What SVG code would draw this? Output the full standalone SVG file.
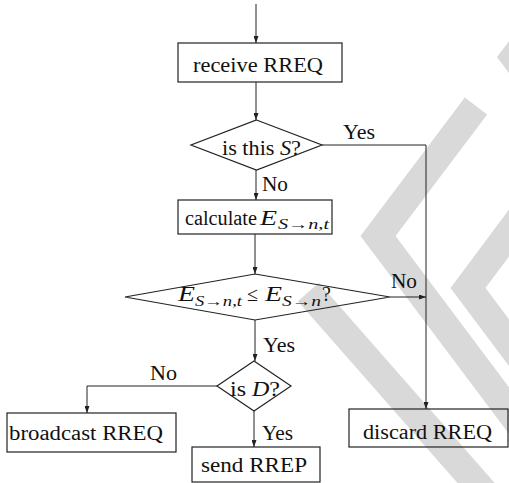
<svg xmlns="http://www.w3.org/2000/svg" width="509" height="483" viewBox="0 0 509 483">
  <defs>
    <style>
      .wm { fill: none; stroke: #d9d9d9; stroke-width: 28; stroke-linejoin: miter; stroke-miterlimit: 10; stroke-linecap: butt; }
      .shape { fill: none; stroke: #222; stroke-width: 1.2; }
      .edge { fill: none; stroke: #222; stroke-width: 1; marker-end: url(#ah); }
      text { font-family: "Liberation Serif", "Times New Roman", serif; font-size: 20px; fill: #111; }
      .it { font-style: italic; }
      .sub { font-size: 14px; }
    </style>
    <marker id="ah" markerWidth="7" markerHeight="5" refX="7" refY="2.5" orient="auto" markerUnits="userSpaceOnUse">
      <path d="M0,0 L7,2.5 L0,5 z" fill="#222"/>
    </marker>
  </defs>

  <!-- background watermark bands -->
  <g id="watermark">
    <path class="wm" d="M476,106 L378,236 L558,476"/>
    <path class="wm" d="M588,127 L468,288 L588,448"/>
    <path class="wm" d="M574,-20 L514.5,57 L574,136"/>
    <path class="wm" d="M308.4,292 L520,533"/>
  </g>

  <!-- connectors -->
  <g id="connectors">
    <path class="edge" d="M256,4 V43"/>
    <path class="edge" d="M256,82 V120"/>
    <path class="edge" d="M322,145 H426 V409"/>
    <path class="edge" d="M256,170 V200"/>
    <path class="edge" d="M255,234 V274"/>
    <path class="edge" d="M390,297 H426"/>
    <path class="edge" d="M255,320 V361"/>
    <path class="edge" d="M217,386 H87 V413"/>
    <path class="edge" d="M254,411 V447"/>
  </g>

  <!-- connector labels -->
  <g id="labels">
    <text x="343" y="139" textLength="32" lengthAdjust="spacingAndGlyphs">Yes</text>
    <text x="262" y="191" textLength="26" lengthAdjust="spacingAndGlyphs">No</text>
    <text x="391" y="288" textLength="26" lengthAdjust="spacingAndGlyphs">No</text>
    <text x="263" y="352" textLength="32" lengthAdjust="spacingAndGlyphs">Yes</text>
    <text x="150" y="380" textLength="27" lengthAdjust="spacingAndGlyphs">No</text>
    <text x="262" y="440" textLength="31" lengthAdjust="spacingAndGlyphs">Yes</text>
  </g>

  <g id="receive">
    <rect class="shape" x="178" y="43" width="164" height="39"/>
    <text x="193" y="72" textLength="130" lengthAdjust="spacingAndGlyphs">receive RREQ</text>
  </g>

  <g id="isSource">
    <polygon class="shape" points="256.5,120 322,145 256.5,170 191,145"/>
    <text x="222" y="155" textLength="79" lengthAdjust="spacingAndGlyphs">is this <tspan class="it">S</tspan>?</text>
  </g>

  <g id="calculate">
    <rect class="shape" x="178" y="200" width="154" height="34"/>
    <text x="185" y="225" textLength="72" lengthAdjust="spacingAndGlyphs">calculate</text>
    <text x="260" y="225" class="it" textLength="17" lengthAdjust="spacingAndGlyphs">E</text>
    <text x="278" y="229" class="sub" textLength="51" lengthAdjust="spacingAndGlyphs"><tspan class="it">S</tspan>→<tspan class="it">n</tspan>,<tspan class="it">t</tspan></text>
  </g>

  <g id="compare">
    <polygon class="shape" points="255,274 390,297 255,320 125,297"/>
    <text x="178" y="301" class="it" textLength="17" lengthAdjust="spacingAndGlyphs">E</text>
    <text x="195" y="306" class="sub" textLength="47" lengthAdjust="spacingAndGlyphs"><tspan class="it">S</tspan>→<tspan class="it">n</tspan>,<tspan class="it">t</tspan></text>
    <text x="247" y="301">≤</text>
    <text x="265" y="301" class="it" textLength="17" lengthAdjust="spacingAndGlyphs">E</text>
    <text x="282" y="306" class="sub" textLength="39" lengthAdjust="spacingAndGlyphs"><tspan class="it">S</tspan>→<tspan class="it">n</tspan></text>
    <text x="322" y="301">?</text>
  </g>

  <g id="isDest">
    <polygon class="shape" points="254,361 291,386 254,411 217,386"/>
    <text x="230" y="396" textLength="50" lengthAdjust="spacingAndGlyphs">is <tspan class="it">D</tspan>?</text>
  </g>

  <g id="broadcast">
    <rect class="shape" x="7" y="413" width="169" height="39"/>
    <text x="9" y="440" textLength="154" lengthAdjust="spacingAndGlyphs">broadcast RREQ</text>
  </g>

  <g id="sendReply">
    <rect class="shape" x="192" y="447" width="128" height="35"/>
    <text x="201" y="472" textLength="106" lengthAdjust="spacingAndGlyphs">send RREP</text>
  </g>

  <g id="discard">
    <rect class="shape" x="349" y="409" width="159" height="38"/>
    <text x="363" y="439" textLength="129" lengthAdjust="spacingAndGlyphs">discard RREQ</text>
  </g>
</svg>
